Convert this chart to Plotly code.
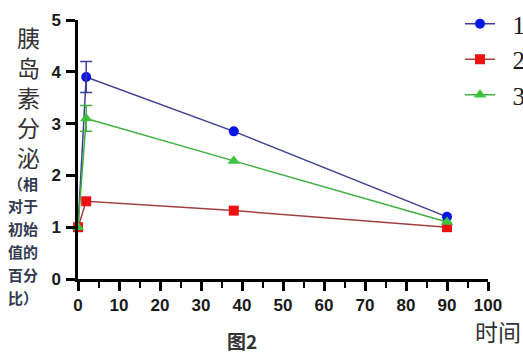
import plotly.graph_objects as go

# Time points (x) and insulin secretion relative to initial value (y)
times = [0, 2, 38, 90]
series_names = ["1", "2", "3"]
values_1 = [1.0, 3.9, 2.85, 1.2]
values_2 = [1.0, 1.5, 1.32, 1.0]
values_3 = [1.0, 3.1, 2.28, 1.1]
err_time = [2]
err_1_val = [3.9]
err_1 = [0.3]
err_3_val = [3.1]
err_3 = [0.25]

x_ticks = [0, 10, 20, 30, 40, 50, 60, 70, 80, 90, 100]
y_ticks = [0, 1, 2, 3, 4, 5]

W, H = 523, 352
ML, MR, MT, MB = 78, 35, 20, 73
PW, PH = W - ML - MR, H - MT - MB


def px(x):
    return (x - ML) / PW


def py(y):
    return (H - MB - y) / PH


styles = [
    dict(line="#3d3d95", marker="#0a14e6", symbol="circle", size=10),
    dict(line="#a04040", marker="#ee1111", symbol="square", size=10),
    dict(line="#40b040", marker="#3cc43c", symbol="triangle-up", size=11),
]

fig = go.Figure()
for name, vals, st in zip(series_names, [values_1, values_2, values_3], styles):
    fig.add_trace(go.Scatter(
        x=times, y=vals, name="\u00a0\u00a0" + name, mode="lines+markers",
        line=dict(color=st["line"], width=1.5),
        marker=dict(color=st["marker"], symbol=st["symbol"], size=st["size"]),
        cliponaxis=False,
    ))

# error bars at the 2-minute point
for xv, yv, ev, col in [(err_time, err_1_val, err_1, "#3d3d95"),
                        (err_time, err_3_val, err_3, "#40b040")]:
    fig.add_trace(go.Scatter(
        x=xv, y=yv, mode="markers", marker=dict(size=1, color="rgba(0,0,0,0)"),
        error_y=dict(type="data", array=ev, color=col, thickness=1.5, width=6),
        showlegend=False, hoverinfo="skip", cliponaxis=False,
    ))

axis_common = dict(
    showgrid=False, zeroline=False, showline=True, linecolor="black", linewidth=2.5,
    ticks="outside", tickcolor="black", tickwidth=2.5, ticklen=9,
    tickfont=dict(family="Liberation Sans, Arial", size=17, color="#1a1a1a", weight="bold"),
)

fig.update_layout(
    width=W, height=H,
    margin=dict(l=ML, r=MR, t=MT, b=MB, autoexpand=False),
    paper_bgcolor="white", plot_bgcolor="white",
    xaxis=dict(range=[0, 100], tickvals=x_ticks,
               minor=dict(ticks="outside", dtick=5, ticklen=6, tickwidth=2, tickcolor="black"),
               **axis_common),
    yaxis=dict(range=[0, 5], tickvals=y_ticks, ticklabelstandoff=2, **axis_common),
    legend=dict(x=px(460), y=py(1), xanchor="left", yanchor="top",
                bgcolor="rgba(0,0,0,0)", tracegroupgap=0, itemwidth=30,
                font=dict(family="Liberation Serif, DejaVu Serif", size=25, color="#1a1a1a")),
    showlegend=True,
)

# y-axis title: stacked vertical characters
fig.add_annotation(text="<br>".join(["胰", "岛", "素", "分", "泌"]),
                   xref="paper", yref="paper", x=px(28), y=py(97),
                   showarrow=False, xanchor="center", yanchor="middle",
                   font=dict(family="Noto Sans CJK SC", size=23, color="#333333"))

sub_lines = ["（相", "对于", "初始", "值的", "百分", "比）"]
for i, line in enumerate(sub_lines):
    fig.add_annotation(text=line, xref="paper", yref="paper", x=px(23), y=py(183 + i * 22.8),
                       showarrow=False, xanchor="center", yanchor="middle",
                       font=dict(family="Noto Sans CJK SC", size=15, color="#333a50", weight="bold"))

fig.add_annotation(text="时间", xref="paper", yref="paper", x=px(473), y=py(331),
                   showarrow=False, xanchor="left", yanchor="middle",
                   font=dict(family="Noto Sans CJK SC", size=23, color="#333333"))
fig.add_annotation(text="<b>图2</b>", xref="paper", yref="paper", x=px(242), y=py(340),
                   showarrow=False, xanchor="center", yanchor="middle",
                   font=dict(family="Noto Sans CJK SC", size=19, color="#333333"))

fig.write_html("out.html")
